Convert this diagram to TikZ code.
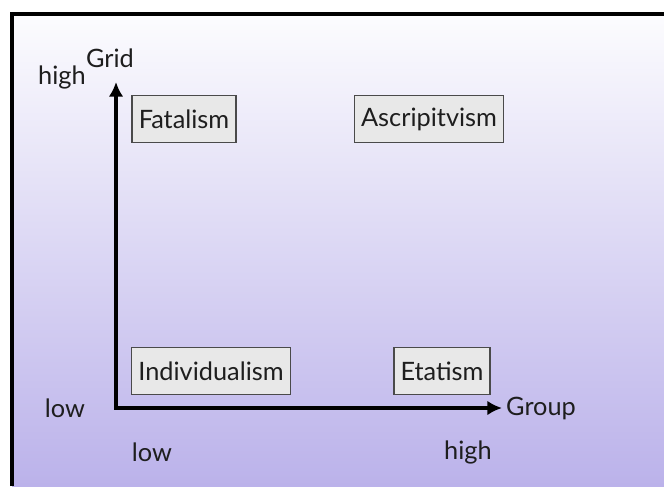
\documentclass[tikz,border=0pt]{standalone}
\usepackage{fontspec}
\setmainfont{Lato}
\usepackage{xcolor}
\usetikzlibrary{arrows.meta,positioning}

\definecolor{slidetop}{HTML}{FCFCFE}
\definecolor{slidemid}{HTML}{E6E2F6}
\definecolor{slidebot}{HTML}{BBB2EA}
\definecolor{boxfill}{HTML}{E8E8E8}
\definecolor{boxline}{HTML}{4A4A4A}
\definecolor{inktext}{HTML}{1E1E1E}

\begin{document}
\begin{tikzpicture}[
    x=0.75pt, y=-0.75pt,
    quadrant/.style={rectangle, draw=boxline, fill=boxfill, line width=1.1pt, inner xsep=5pt, minimum height=35pt, text=inktext, font=\fontsize{19}{22}\selectfont},
    axislabel/.style={text=inktext, font=\fontsize{19}{22}\selectfont},
    axis/.style={draw, line width=3pt, {Latex[length=11pt,width=11pt]}-{Latex[length=11pt,width=11pt]}}
]
    \useasboundingbox (0,0) rectangle (664,486);
    \fill[white] (0,0) rectangle (664,486);

    % Slide background
    \shade[top color=slidetop, middle color=slidemid, bottom color=slidebot] (12,14) rectangle (664,486);
    \draw[line width=3pt] (12,486) -- (12,14) -- (664,14);

    % Axes
    \coordinate (origin) at (116,408);
    \coordinate (gridtip) at (116,82);
    \coordinate (grouptip) at (502,408);
    \path[axis] (gridtip) -- (origin) -- (grouptip);

    % Axis labels
    \node[axislabel] (grid) at (110,58) {Grid};
    \node[axislabel] (group) at (541,408) {Group};
    \node[axislabel] (gridhigh) at (62,77) {high};
    \node[axislabel] (gridlow) at (65,408) {low};
    \node[axislabel] (grouplow) at (152,452) {low};
    \node[axislabel] (grouphigh) at (468,452) {high};

    % Quadrants
    \node[quadrant] (fatal) at (184,119) {Fatalism};
    \node[quadrant] (ascript) at (429,119) {Ascripitvism};
    \node[quadrant] (indiv) at (211,371) {Individualism};
    \node[quadrant] (etat) at (442,371) {Etatism};
\end{tikzpicture}
\end{document}
